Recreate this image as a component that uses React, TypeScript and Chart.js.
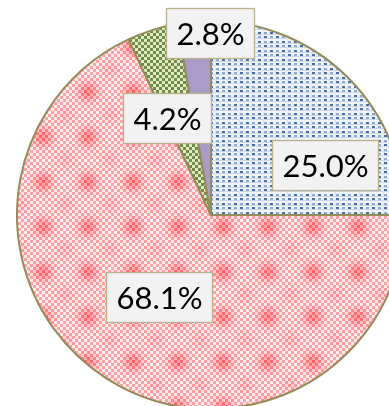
import React, { useEffect, useRef } from 'react';
import { Chart, registerables } from 'chart.js';

Chart.register(...registerables);

// ---- data ----
const categories = ['Item 1', 'Item 2', 'Item 3', 'Item 4'];
const values = [25.0, 68.1, 4.2, 2.8];
const valueLabels = ['25.0%', '68.1%', '4.2%', '2.8%'];

// label placement relative to each slice (angle shift in degrees, distance as fraction of radius)
const labelAngleShift = [21.4, 0, -6.9, 4.8];
const labelDistance = [0.641, 0.5, 0.55, 0.937];

const W = 422;
const H = 430;

function hexRgb(c: string): number[] {
  return [parseInt(c.slice(1, 3), 16), parseInt(c.slice(3, 5), 16), parseInt(c.slice(5, 7), 16)];
}
function mix(a: number[], b: number[], t: number): number[] {
  return [a[0] + (b[0] - a[0]) * t, a[1] + (b[1] - a[1]) * t, a[2] + (b[2] - a[2]) * t];
}

function redPattern(ctx: CanvasRenderingContext2D): CanvasPattern {
  const T = 90;
  const cell = 3;
  const c = document.createElement('canvas');
  c.width = T;
  c.height = T;
  const g = c.getContext('2d')!;
  const img = g.createImageData(T, T);
  const darkFar = hexRgb('#ffa4a8');
  const lightFar = hexRgb('#fff0f1');
  const red = hexRgb('#ff5e64');
  const redLight = hexRgb('#ff9da1');
  const sp = 45;
  for (let y = 0; y < T; y++) {
    for (let x = 0; x < T; x++) {
      const i = Math.floor(x / cell);
      const j = Math.floor(y / cell);
      const p = (i + j) & 1;
      const cx = i * cell + 1.5;
      const cy = j * cell + 1.5;
      let bx = (((cx - 43) % sp) + sp) % sp;
      let by = (((cy - 2) % sp) + sp) % sp;
      bx = Math.min(bx, sp - bx);
      by = Math.min(by, sp - by);
      const w1 = Math.exp(-(bx * bx + by * by) / (2 * 6.5 * 6.5));
      let hx = (((cx - 43 - 22.5) % sp) + sp) % sp;
      let hy = (((cy - 2 - 22.5) % sp) + sp) % sp;
      hx = Math.min(hx, sp - hx);
      hy = Math.min(hy, sp - hy);
      const w2 = 0.3 * Math.exp(-(hx * hx + hy * hy) / (2 * 6 * 6));
      const w = Math.min(1, w1 + w2);
      const col = p === 0 ? mix(darkFar, red, w) : mix(lightFar, redLight, w);
      const k = (y * T + x) * 4;
      img.data[k] = col[0];
      img.data[k + 1] = col[1];
      img.data[k + 2] = col[2];
      img.data[k + 3] = 255;
    }
  }
  g.putImageData(img, 0, 0);
  return ctx.createPattern(c, 'repeat')!;
}

function bluePattern(ctx: CanvasRenderingContext2D): CanvasPattern {
  const c = document.createElement('canvas');
  c.width = 12;
  c.height = 9;
  const g = c.getContext('2d')!;
  g.fillStyle = '#f1f5fa';
  g.fillRect(0, 0, 12, 9);
  g.fillStyle = '#c9d6ea';
  g.fillRect(0, 2, 12, 1);
  g.fillRect(0, 7, 12, 1);
  g.fillStyle = '#e0e8f3';
  g.fillRect(11, 0, 1, 9);
  const dark = '#476ca4';
  const mid = '#93aad0';
  g.fillStyle = dark;
  g.fillRect(0, 0, 3, 2);
  g.fillRect(6, 5, 3, 2);
  g.fillStyle = mid;
  g.fillRect(6, 0, 3, 2);
  g.fillRect(0, 5, 3, 2);
  return ctx.createPattern(c, 'repeat')!;
}

function greenPattern(ctx: CanvasRenderingContext2D): CanvasPattern {
  const c = document.createElement('canvas');
  c.width = 6;
  c.height = 6;
  const g = c.getContext('2d')!;
  g.fillStyle = '#e1ecbf';
  g.fillRect(0, 0, 6, 6);
  g.fillStyle = '#6f8a4c';
  g.fillRect(0, 0, 3, 3);
  g.fillRect(3, 3, 3, 3);
  return ctx.createPattern(c, 'repeat')!;
}

const boxLabelPlugin = {
  id: 'boxLabels',
  afterDatasetsDraw(chart: any) {
    const ctx: CanvasRenderingContext2D = chart.ctx;
    const meta = chart.getDatasetMeta(0);
    ctx.save();
    ctx.font = '31px Lato';
    ctx.textAlign = 'center';
    ctx.textBaseline = 'middle';
    meta.data.forEach((arc: any, idx: number) => {
      const p = arc.getProps(['x', 'y', 'startAngle', 'endAngle', 'outerRadius'], true);
      const ang = (p.startAngle + p.endAngle) / 2 + (labelAngleShift[idx] * Math.PI) / 180;
      const r = p.outerRadius * labelDistance[idx];
      const cx = p.x + Math.cos(ang) * r;
      const cy = p.y + Math.sin(ang) * r;
      const text = valueLabels[idx];
      const tw = ctx.measureText(text).width;
      const bw = Math.round(tw + 20);
      const bh = 50;
      const x0 = Math.round(cx - bw / 2) + 0.5;
      const y0 = Math.round(cy - bh / 2) + 0.5;
      ctx.fillStyle = '#f2f2f2';
      ctx.fillRect(x0, y0, bw, bh);
      ctx.strokeStyle = '#b9b08c';
      ctx.lineWidth = 1.3;
      ctx.strokeRect(x0, y0, bw, bh);
      ctx.fillStyle = '#000000';
      ctx.fillText(text, x0 + bw / 2, y0 + bh / 2 + 1);
    });
    ctx.restore();
  },
};

export default function App() {
  const ref = useRef<HTMLCanvasElement | null>(null);
  useEffect(() => {
    document.body.style.overflow = 'hidden';
    document.documentElement.style.overflow = 'hidden';
    const canvas = ref.current!;
    const ctx = canvas.getContext('2d')!;
    const bg = [bluePattern(ctx), redPattern(ctx), greenPattern(ctx), '#a99cc9'];
    const chart = new Chart(canvas, {
      type: 'pie',
      data: {
        labels: categories,
        datasets: [
          {
            data: values,
            backgroundColor: bg as any,
            borderColor: '#958b5b',
            borderWidth: 2,
          },
        ],
      },
      options: {
        responsive: false,
        devicePixelRatio: 1,
        animation: false,
        radius: 194,
        layout: { padding: 0 },
        plugins: {
          legend: { display: false },
          tooltip: { enabled: false },
        },
      } as any,
      plugins: [boxLabelPlugin],
    });
    return () => chart.destroy();
  }, []);
  return (
    <div style={{ position: 'fixed', left: 0, top: 0, width: W, height: H, background: '#ffffff' }}>
      <canvas ref={ref} width={W} height={H} style={{ display: 'block', width: W, height: H }} />
    </div>
  );
}
